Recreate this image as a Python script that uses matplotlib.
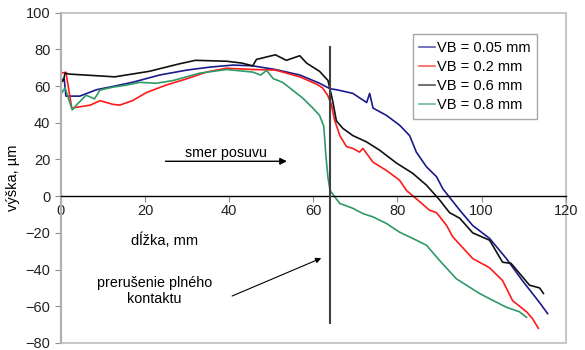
import matplotlib
matplotlib.use("Agg")
import matplotlib.pyplot as plt
from matplotlib.patches import Rectangle

plt.rcParams['font.family'] = ['Liberation Sans', 'DejaVu Sans']

# profile measurements, length in mm, height in um
x_005 = [0, 0.8, 1.2, 4.5, 8.5, 11.6, 17, 23.5, 30, 35.4, 40.9, 45.6, 51, 56.8,
         61.5, 64, 65.5, 69.4, 72.7, 73.4, 74.2, 77.4, 80.5, 82.9, 84.5, 86.9,
         89.3, 90.8, 94.8, 97.9, 101.9, 105.9, 109.7, 113.8, 115.7]
y_005 = [63, 64, 54.5, 54.5, 58, 59.4, 62, 66, 68.7, 70.3, 71.4, 71, 69, 66,
         61.5, 58.5, 58, 56, 51, 56, 48, 44, 38.7, 33, 24, 16,
         10.6, 4, -7.6, -16, -23, -34, -46, -58, -64]

x_02 = [0, 1.2, 2.6, 7, 9.3, 12.4, 14, 17, 20.4, 25, 30, 34.6, 39.4, 45.6, 51,
        56.8, 60.8, 62.2, 63.4, 64.3, 65, 66.3, 67.9, 69.4, 71, 71.8, 74.2,
        77.4, 80.5, 82.2, 85.3, 87.6, 89.3, 91.7, 93.1, 95.5, 97.9, 101.9, 105,
        107.4, 110.7, 112.1, 113.5]
y_02 = [67, 67.5, 48, 49.6, 52, 50, 49.6, 52, 56.5, 60.5, 64, 67.6, 69.7, 69,
        68.7, 65, 61, 59, 55, 50, 42, 33, 27, 26, 24, 26, 18.5,
        14, 8.7, 3, -3, -7.6, -9, -16, -22, -28, -34, -39, -46,
        -57, -63, -66.7, -72]

x_06 = [0, 0.6, 1, 2, 10, 12.8, 21, 28, 32, 39.4, 43, 45.6, 46.5, 51, 53.6,
        56.8, 58.4, 61.5, 63.5, 64.6, 65.5, 67, 69.4, 72.7, 75.8, 79.8, 83.6,
        86.9, 90, 92.4, 94.8, 97.9, 101.9, 105, 107, 109, 111.4, 113.8, 114.7]
y_06 = [62, 63, 67, 66.5, 65.4, 65, 68, 72, 74, 73.5, 72.5, 71, 74.5, 77, 74,
        76.5, 72.5, 68, 63, 52, 41, 37, 33, 29.5, 25, 18, 12.5,
        6, -2, -9, -12, -20, -24, -36, -36.6, -42, -48.5, -50, -53]

x_08 = [0, 1, 2.7, 3.7, 6, 8, 9.3, 12.4, 15.6, 18.8, 22.7, 26.7, 33, 39.4,
        45.6, 47.5, 48.9, 50.5, 52.7, 54.4, 57.5, 59.9, 61.5, 62.5, 63, 63.5,
        64, 66.3, 69.4, 71.8, 74.2, 77.4, 80.5, 83.6, 86.9, 90, 92.4, 94, 96.4,
        99.5, 102.6, 105.9, 109, 110.7]
y_08 = [55.6, 59, 47, 49.6, 55, 53, 57.8, 59.4, 60.5, 62, 61.5, 63, 67, 69,
        67.6, 66, 68.5, 64, 62, 59, 53.4, 48, 44, 38, 22, 10,
        3, -4, -6.6, -9.5, -11.3, -14.9, -19.6, -23, -26.7, -35, -41, -45, -48.5,
        -53, -56.7, -60.5, -63, -66]

series = [
    (x_005, y_005, 'VB = 0.05 mm', '#1a1a8c'),
    (x_02, y_02, 'VB = 0.2 mm', '#ff1a1a'),
    (x_06, y_06, 'VB = 0.6 mm', '#111111'),
    (x_08, y_08, 'VB = 0.8 mm', '#2e9a66'),
]

fig = plt.figure(figsize=(5.85, 3.5), dpi=100)
ax = fig.add_axes([0.104, 0.02, 0.863, 0.944])

for xs, ys, lab, col in series:
    ax.plot(xs, ys, color=col, lw=1.2, label=lab)

ax.set_xlim(0, 120)
ax.set_ylim(-80, 100)
ax.set_xticks(range(0, 121, 20))
ax.set_yticks(range(-80, 101, 20))

# x axis runs along the zero line, plot area gets a light grey frame
ax.spines['bottom'].set_position(('data', 0))
ax.spines['bottom'].set_color('black')
ax.spines['bottom'].set_linewidth(1.0)
ax.spines['top'].set_visible(False)
ax.spines['right'].set_visible(False)
ax.spines['left'].set_color('#b0b0b0')
ax.spines['left'].set_linewidth(1.5)
ax.add_patch(Rectangle((0, 0), 1, 1, transform=ax.transAxes, fill=False,
                       edgecolor='#c8c8c8', lw=1.5, clip_on=False, zorder=0))
ax.tick_params(axis='both', direction='out', length=4, color='#909090',
               labelsize=10.5, colors='#222222')
ax.tick_params(axis='x', pad=2)

ax.set_ylabel('výška, µm', fontsize=10.5, labelpad=4)
ax.text(24.7, -24, 'dĺžka, mm', ha='center', va='center', fontsize=10.5)

# boundary of full contact
ax.plot([64, 64], [-69, 81], color='#404040', lw=1.5, zorder=5)

ax.annotate('', xy=(54.4, 19), xytext=(24.2, 19),
            arrowprops=dict(arrowstyle='-|>', color='black', lw=1.0,
                            mutation_scale=10))
ax.text(39.2, 23.4, 'smer posuvu', ha='center', va='center', fontsize=10.3)

ax.annotate('', xy=(62.5, -33.2), xytext=(40.1, -55),
            arrowprops=dict(arrowstyle='-|>', color='black', lw=0.8,
                            mutation_scale=8))
ax.text(22.3, -51.5, 'prerušenie plného\nkontaktu', ha='center', va='center',
        fontsize=10.3, linespacing=1.15)

leg = ax.legend(loc='upper left', bbox_to_anchor=(0.697, 0.935), fontsize=10.5,
                frameon=True, fancybox=False, edgecolor='#909090',
                handlelength=1.1, handletextpad=0.1, borderpad=0.45,
                labelspacing=0.35, borderaxespad=0)
leg.get_frame().set_linewidth(1.0)
for line in leg.get_lines():
    line.set_alpha(0.7)

fig.savefig('out.png', dpi=100)
